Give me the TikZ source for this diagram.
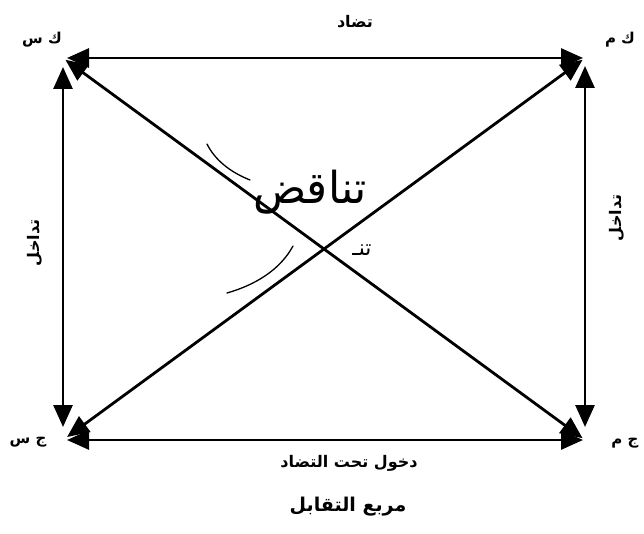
\documentclass[tikz,border=0pt]{standalone}
\usepackage{fontspec}
\newfontfamily\arabicfont[Script=Arabic]{DejaVu Sans}
\TeXXeTstate=1
\usetikzlibrary{arrows.meta}
\tikzset{
  cornerlbl/.style={font=\arabicfont\bfseries\fontsize{15}{17}\selectfont,inner sep=1pt},
  rellbl/.style={font=\arabicfont\bfseries\fontsize{16}{18}\selectfont,inner sep=1pt},
  titlelbl/.style={font=\arabicfont\bfseries\fontsize{19}{22}\selectfont,inner sep=1pt},
  handlbl/.style={font=\arabicfont\fontsize{44}{48}\selectfont,inner sep=0pt},
  opparr/.style={{Triangle[length=22pt,width=19pt]}-{Triangle[length=22pt,width=19pt]},line width=2.8pt},
  handstroke/.style={line width=1.3pt,line cap=round}
}

\begin{document}
\begin{tikzpicture}[x=1pt,y=-1pt]
  \useasboundingbox (0,0) rectangle (644,534);

  %% corners of the square
  \coordinate (ks) at (63,58);
  \coordinate (km) at (585,58);
  \coordinate (js) at (63,440);
  \coordinate (jm) at (585,440);

  %% corner labels
  \node[cornerlbl] (lks) at (42,40) {\beginR ك س\endR};
  \node[cornerlbl] (lkm) at (620,40) {\beginR ك م\endR};
  \node[cornerlbl] (ljs) at (28,442) {\beginR ج س\endR};
  \node[cornerlbl] (ljm) at (625,443) {\beginR ج م\endR};

  %% sides
  \draw[opparr,shorten <=4pt,shorten >=2pt] (ks) -- (km);
  \draw[opparr,shorten <=4pt,shorten >=2pt] (js) -- (jm);
  \draw[opparr,shorten <=9pt,shorten >=13pt] (ks) -- (js);
  \draw[opparr,shorten <=8pt,shorten >=13pt] (km) -- (jm);

  %% diagonals
  \draw[opparr,shorten <=3pt,shorten >=3pt] (ks) -- (jm);
  \draw[opparr,shorten <=5pt,shorten >=3pt] (js) -- (km);

  %% relation labels
  \node[rellbl] (tadad) at (355,22) {\beginR تضاد\endR};
  \node[rellbl,rotate=90] (tadakhul1) at (35,243) {\beginR تداخل\endR};
  \node[rellbl,rotate=90] (tadakhul2) at (617,218) {\beginR تداخل\endR};
  \node[rellbl] (dukhul) at (349,463) {\beginR دخول تحت التضاد\endR};

  %% handwritten note
  \node[handlbl] (tanaqud) at (310,192) {\beginR تناقض\endR};
  \node[handlbl,font=\arabicfont\fontsize{22}{26}\selectfont] (tanaqud2) at (362,250) {\beginR تنـ\endR};
  \draw[handstroke] (207,144) .. controls (215,160) and (230,172) .. (250,180);
  \draw[handstroke] (293,246) .. controls (280,270) and (255,285) .. (227,293);

  %% title
  \node[titlelbl] (title) at (348,507) {\beginR مربع التقابل\endR};
\end{tikzpicture}
\end{document}
